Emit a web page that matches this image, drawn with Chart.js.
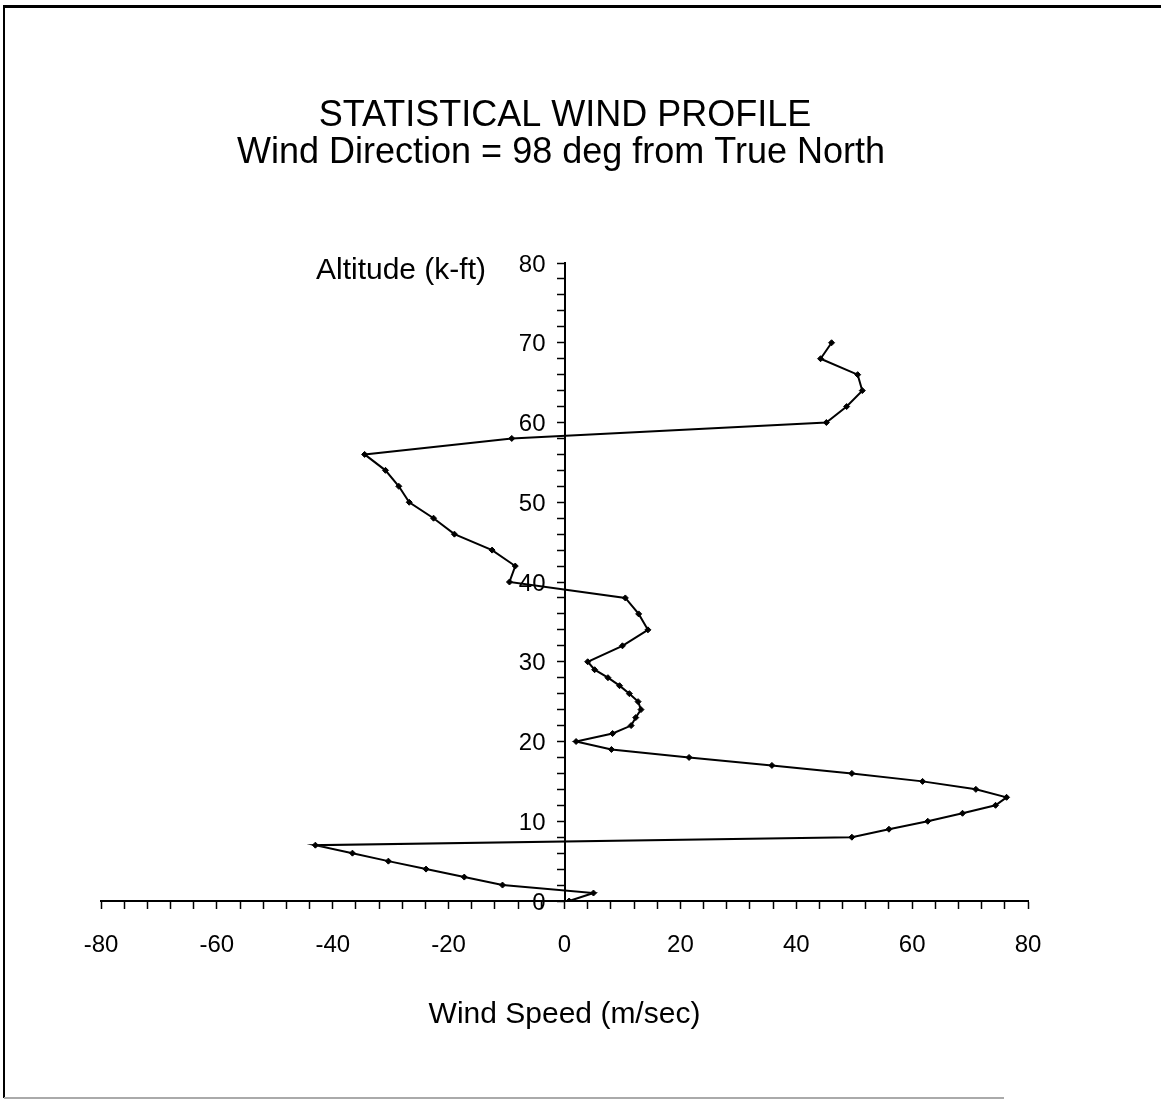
<!DOCTYPE html>
<html>
<head>
<meta charset="utf-8">
<script src="https://cdn.jsdelivr.net/npm/chart.js@4"></script>
<style>
  body { margin: 0; background: #fff; }
  #wrap { position: relative; width: 1161px; height: 1100px; }
</style>
</head>
<body>
<div id="wrap"><canvas id="windProfile" width="1161" height="1100"></canvas></div>
<script>
// altitude in k-ft, wind speed in m/sec
const altitudes = [0, 1, 2, 3, 4, 5, 6, 7, 8, 9, 10, 11, 12, 13, 14, 15, 16, 17, 18, 19,
  20, 21, 22, 23, 24, 25, 26, 27, 28, 29, 30, 32, 34, 36, 38, 40, 42, 44, 46, 48,
  50, 52, 54, 56, 58, 60, 62, 64, 66, 68, 70];
const speeds = [0.8, 5.0, -10.7, -17.3, -23.9, -30.4, -36.6, -43.0, 49.6, 56.0, 62.7, 68.7,
  74.4, 76.3, 71.0, 61.8, 49.6, 35.8, 21.5, 8.1, 2.0, 8.3, 11.5, 12.3, 13.2, 12.7, 11.2,
  9.5, 7.5, 5.2, 4.0, 10.0, 14.4, 12.8, 10.5, -9.5, -8.5, -12.5, -19.0, -22.6, -26.8,
  -28.6, -30.9, -34.5, -9.1, 45.2, 48.7, 51.4, 50.6, 44.2, 46.1];
const titleLines = ['STATISTICAL WIND PROFILE', 'Wind Direction = 98 deg from True North'];
const xTitle = 'Wind Speed (m/sec)';
const yTitle = 'Altitude (k-ft)';

const FONT = '"Liberation Sans", Arial, sans-serif';

let points = altitudes.map((a, i) => ({ x: speeds[i], y: a }));

const frameAndText = {
  id: 'frameAndText',
  afterDraw(chart) {
    const c = chart.ctx;
    const xs = chart.scales.x;
    const ys = chart.scales.y;
    c.save();
    // page frame
    c.fillStyle = '#000';
    c.fillRect(4, 5, 1157, 3);
    c.fillRect(3, 5, 2, 1093);
    c.fillStyle = '#aaa';
    c.fillRect(4, 1097, 1000, 2);
    // titles
    c.fillStyle = '#000';
    c.textAlign = 'center';
    c.textBaseline = 'middle';
    c.font = '36px ' + FONT;
    c.fillText(titleLines[0], 565, 116);
    c.fillText(titleLines[1], 561, 153);
    c.font = '30px ' + FONT;
    c.fillText(xTitle, xs.getPixelForValue(0), 1015);
    c.textAlign = 'right';
    c.fillText(yTitle, 486, 271);
    // y tick labels, left of the axis that sits at x = 0
    c.font = '24px ' + FONT;
    const axisX = xs.getPixelForValue(0);
    ys.ticks.forEach(t => {
      if (t.value % 10 === 0) c.fillText(String(t.value), axisX - 19, ys.getPixelForValue(t.value) + 2);
    });
    c.restore();
  }
};

new Chart(document.getElementById('windProfile'), {
  type: 'scatter',
  data: {
    datasets: [{
      data: points,
      showLine: true,
      borderColor: '#000',
      borderWidth: 2,
      backgroundColor: '#000',
      pointStyle: 'rectRot',
      pointRadius: 3,
      pointBorderWidth: 1
    }]
  },
  options: {
    responsive: false,
    animation: false,
    layout: { padding: { left: 101, right: 133, top: 263, bottom: 139 } },
    plugins: { legend: { display: false }, tooltip: { enabled: false } },
    scales: {
      x: {
        type: 'linear',
        min: -80, max: 80,
        afterFit(s) { s.height = 60; },
        border: { color: '#000', width: 2 },
        grid: { drawOnChartArea: false, drawTicks: true, tickLength: 8, color: '#000', tickWidth: 1.5 },
        ticks: {
          stepSize: 4,
          autoSkip: false,
          maxRotation: 0,
          color: '#000',
          font: { family: FONT, size: 24 },
          padding: 22,
          callback: v => (v % 20 === 0 ? v : '')
        }
      },
      y: {
        type: 'linear',
        position: { x: 0 },
        min: 0, max: 80,
        border: { color: '#000', width: 2 },
        grid: { drawOnChartArea: false, drawTicks: true, tickLength: 7, color: '#000', tickWidth: 1.5 },
        ticks: {
          stepSize: 2,
          autoSkip: false,
          color: '#000',
          font: { family: FONT, size: 24 },
          callback: () => ''
        }
      }
    }
  },
  plugins: [frameAndText]
});
</script>
</body>
</html>
